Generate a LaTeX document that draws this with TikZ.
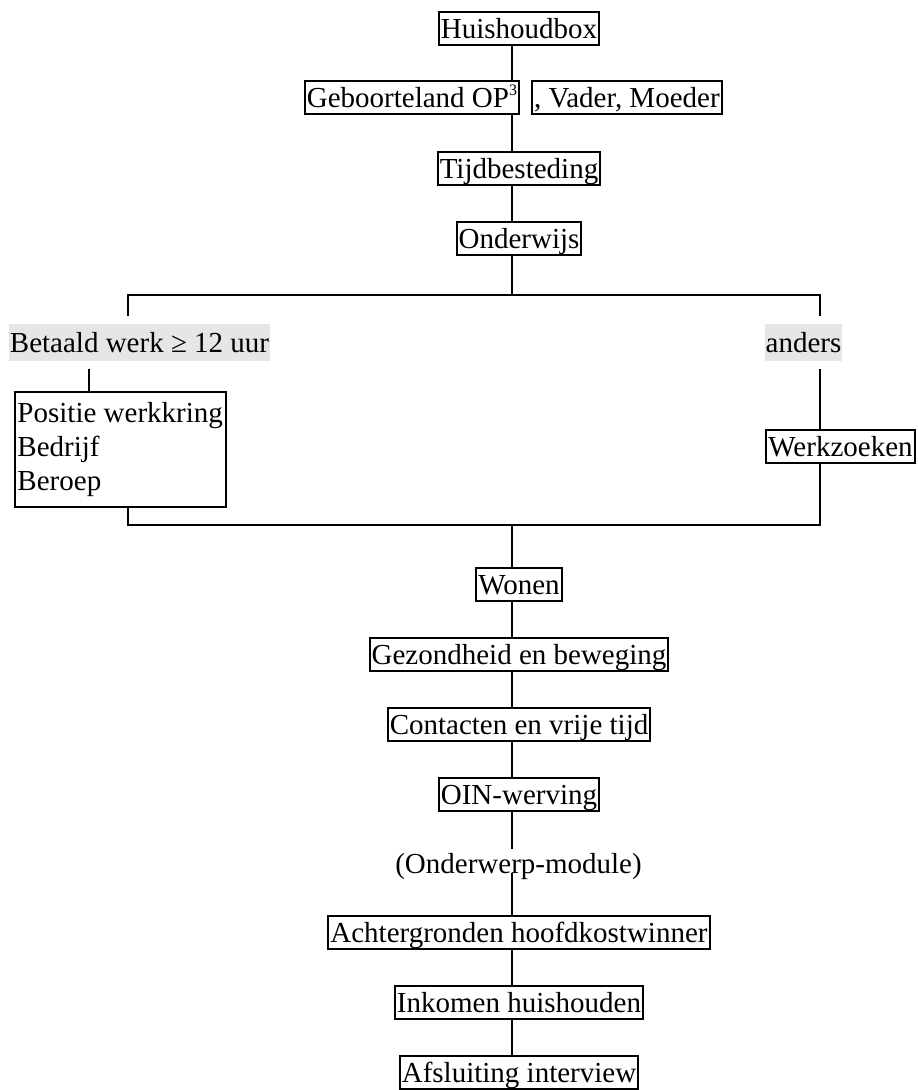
\documentclass[tikz,border=0pt]{standalone}
\usepackage{fontspec}
\setmainfont{Liberation Serif}
\usepackage{tikz}
\usetikzlibrary{positioning}
\definecolor{lblgray}{RGB}{230,230,230}

\begin{document}
\begin{tikzpicture}[
  x=0.5pt, y=-0.5pt,
  node distance=17.5pt,
  font=\fontsize{14.5}{17}\selectfont,
  qbox/.style={draw, line width=1pt, inner xsep=1pt, inner ysep=0.6pt,
    text height=12.6pt, text depth=2.7pt},
  listbox/.style={draw, line width=1pt, align=left, inner xsep=1.5pt, inner ysep=0pt},
  route/.style={fill=lblgray, inner xsep=0.5pt, inner ysep=1.6pt,
    text height=12.6pt, text depth=2.7pt, outer ysep=4pt},
  link/.style={line width=0.75pt}
]
  \useasboundingbox (0,0) rectangle (917,1090);
  \coordinate (spine) at (512,0);

  \node[qbox] (hb) at (519,28.5) {Huishoudbox};
  \node[qbox, anchor=east] (gb1) at (520,98) {Geboorteland OP\raisebox{0.9ex}{\fontsize{8}{8}\selectfont 3}};
  \node[qbox, right=5.5pt of gb1] (gb2) {, Vader, Moeder};
  \node[qbox] (tb) at (519,168.5) {Tijdbesteding};
  \node[qbox, below=of tb] (ow) {Onderwijs};

  % split into the two routes
  \coordinate (split) at (512,295);
  \coordinate (sl) at (128,295);
  \coordinate (sr) at (820,295);
  \coordinate (bwx) at (89,0);
  \node[route] (bw) at (139.5,342.5) {Betaald werk ≥ 12 uur};
  \node[route] (an) at (803.5,342.5) {anders};
  \node[listbox, anchor=north west, minimum width=105pt, minimum height=57.1pt] (pw)
    at (13.5,391.5) {Positie werkkring\\Bedrijf\\Beroep};
  \node[qbox] (wz) at (840.5,446.5) {Werkzoeken};
  \coordinate (join) at (512,525);
  \coordinate (jl) at (128,525);
  \coordinate (jr) at (820,525);

  \node[qbox] (wo) at (519,584.5) {Wonen};
  \node[qbox, below=of wo] (gz) {Gezondheid en beweging};
  \node[qbox, below=of gz] (ct) {Contacten en vrije tijd};
  \node[qbox, below=of ct] (oin) {OIN-werving};
  \node[inner sep=0pt, text height=12pt, text depth=0pt, anchor=base] (mod)
    at (518.5,873) {(Onderwerp-module)};
  \node[qbox] (ach) at (519,932.5) {Achtergronden hoofdkostwinner};
  \node[qbox, below=of ach] (ink) {Inkomen huishouden};
  \node[qbox, below=of ink] (afs) {Afsluiting interview};

  \foreach \a/\b in {hb/gb1, gb1/tb, tb/ow, wo/gz, gz/ct, ct/oin, oin/mod, mod/ach, ach/ink, ink/afs}
    \draw[link] (\a.south -| spine) -- (\b.north -| spine);

  \draw[link] (ow.south -| spine) -- (split);
  \draw[link] (bw.north -| sl) -- (sl) -- (sr) -- (an.north -| sr);
  \draw[link] (bw.south -| bwx) -- (pw.north -| bwx);
  \draw[link] (an.south -| sr) -- (wz.north -| sr);
  \draw[link] (pw.south -| jl) -- (jl) -- (jr) -- (wz.south -| jr);
  \draw[link] (join) -- (wo.north -| join);
\end{tikzpicture}
\end{document}
